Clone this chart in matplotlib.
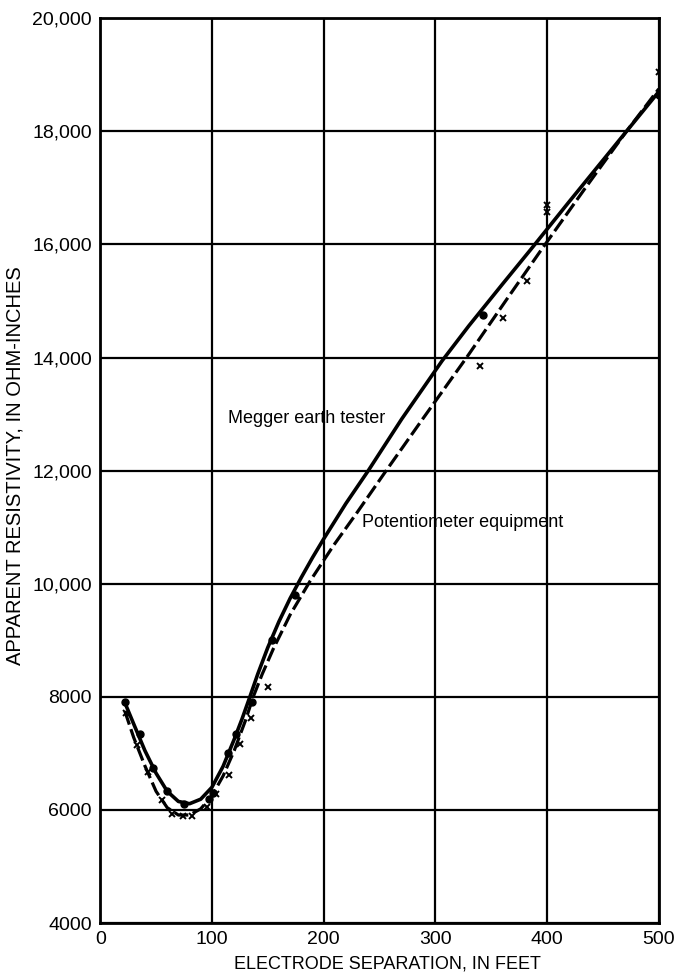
import matplotlib
matplotlib.use("Agg")
import matplotlib.pyplot as plt

plt.rcParams['font.family'] = ['Liberation Sans', 'DejaVu Sans']

# measured points, Megger earth tester (dots)
megger_x = [22, 36, 47, 60, 75, 97, 101, 114, 122, 136, 154, 174, 343, 500]
megger_y = [7900, 7350, 6750, 6330, 6100, 6190, 6300, 7000, 7340, 7900, 9000, 9800, 14750, 18650]

# measured points, potentiometer equipment (crosses)
pot_x = [23, 33, 43, 55, 64, 74, 82, 96, 104, 115, 125, 135, 150, 340, 361, 382, 400, 400, 500]
pot_y = [7710, 7150, 6670, 6170, 5920, 5890, 5900, 6050, 6290, 6620, 7160, 7630, 8180, 13850, 14700, 15350, 16700, 16580, 19050]

# faired curves
megger_curve_x = [22, 30, 40, 50, 60, 70, 80, 90, 100, 110, 120, 127, 134, 141, 150, 160, 170, 180, 190, 200, 220,
                  240, 270, 306, 330, 360, 385, 420, 460, 500]
megger_curve_y = [7900, 7520, 7050, 6650, 6330, 6150, 6110, 6190, 6400, 6770, 7250, 7610, 8000, 8400, 8870, 9330,
                  9740, 10110, 10460, 10790, 11420, 12000, 12915, 13940, 14560, 15295, 15900, 16760, 17730, 18700]

pot_curve_x = [22, 30, 40, 50, 60, 70, 80, 90, 100, 110, 120, 130, 137, 145, 155, 170, 188, 209, 230, 256, 290, 328,
               365, 394, 434, 470, 500]
pot_curve_y = [7750, 7280, 6780, 6330, 6040, 5910, 5910, 6020, 6250, 6600, 7050, 7580, 8000, 8400, 8850, 9450,
               10050, 10680, 11260, 12000, 12950, 14000, 15060, 15880, 16990, 17970, 18750]

fig = plt.figure(figsize=(6.77, 9.75), dpi=100)
ax = fig.add_axes([0.148, 0.0533, 0.825, 0.928])

ax.plot(megger_curve_x, megger_curve_y, color='black', lw=2.6, solid_capstyle='round', solid_joinstyle='round')
ax.plot(pot_curve_x, pot_curve_y, color='black', lw=2.3, dashes=(4.5, 1.5))
ax.plot(megger_x, megger_y, 'o', color='black', ms=5, zorder=4)
ax.plot(pot_x, pot_y, 'x', color='black', ms=5, mew=1.4, zorder=4)

ax.set_xlim(0, 500)
ax.set_ylim(4000, 20000)
ax.set_xticks(range(0, 501, 100))
ax.set_yticks(range(4000, 20001, 2000))
ax.set_yticklabels(['4000', '6000', '8000', '10,000', '12,000', '14,000', '16,000', '18,000', '20,000'])
ax.grid(True, color='black', lw=1.6)
ax.tick_params(length=0, labelsize=14, pad=6)
for s in ax.spines.values():
    s.set_linewidth(2)

ax.set_xlabel('ELECTRODE SEPARATION, IN FEET', fontsize=13)
ax.set_ylabel('APPARENT RESISTIVITY, IN OHM-INCHES', fontsize=14.5)
ax.xaxis.set_label_coords(0.515, -0.036)
ax.yaxis.set_label_coords(-0.135, 0.505)

ax.text(114, 12930, 'Megger earth tester', fontsize=13, va='center', ha='left')
ax.text(234, 11090, 'Potentiometer equipment', fontsize=13, va='center', ha='left')

fig.savefig('out.png', dpi=100)
